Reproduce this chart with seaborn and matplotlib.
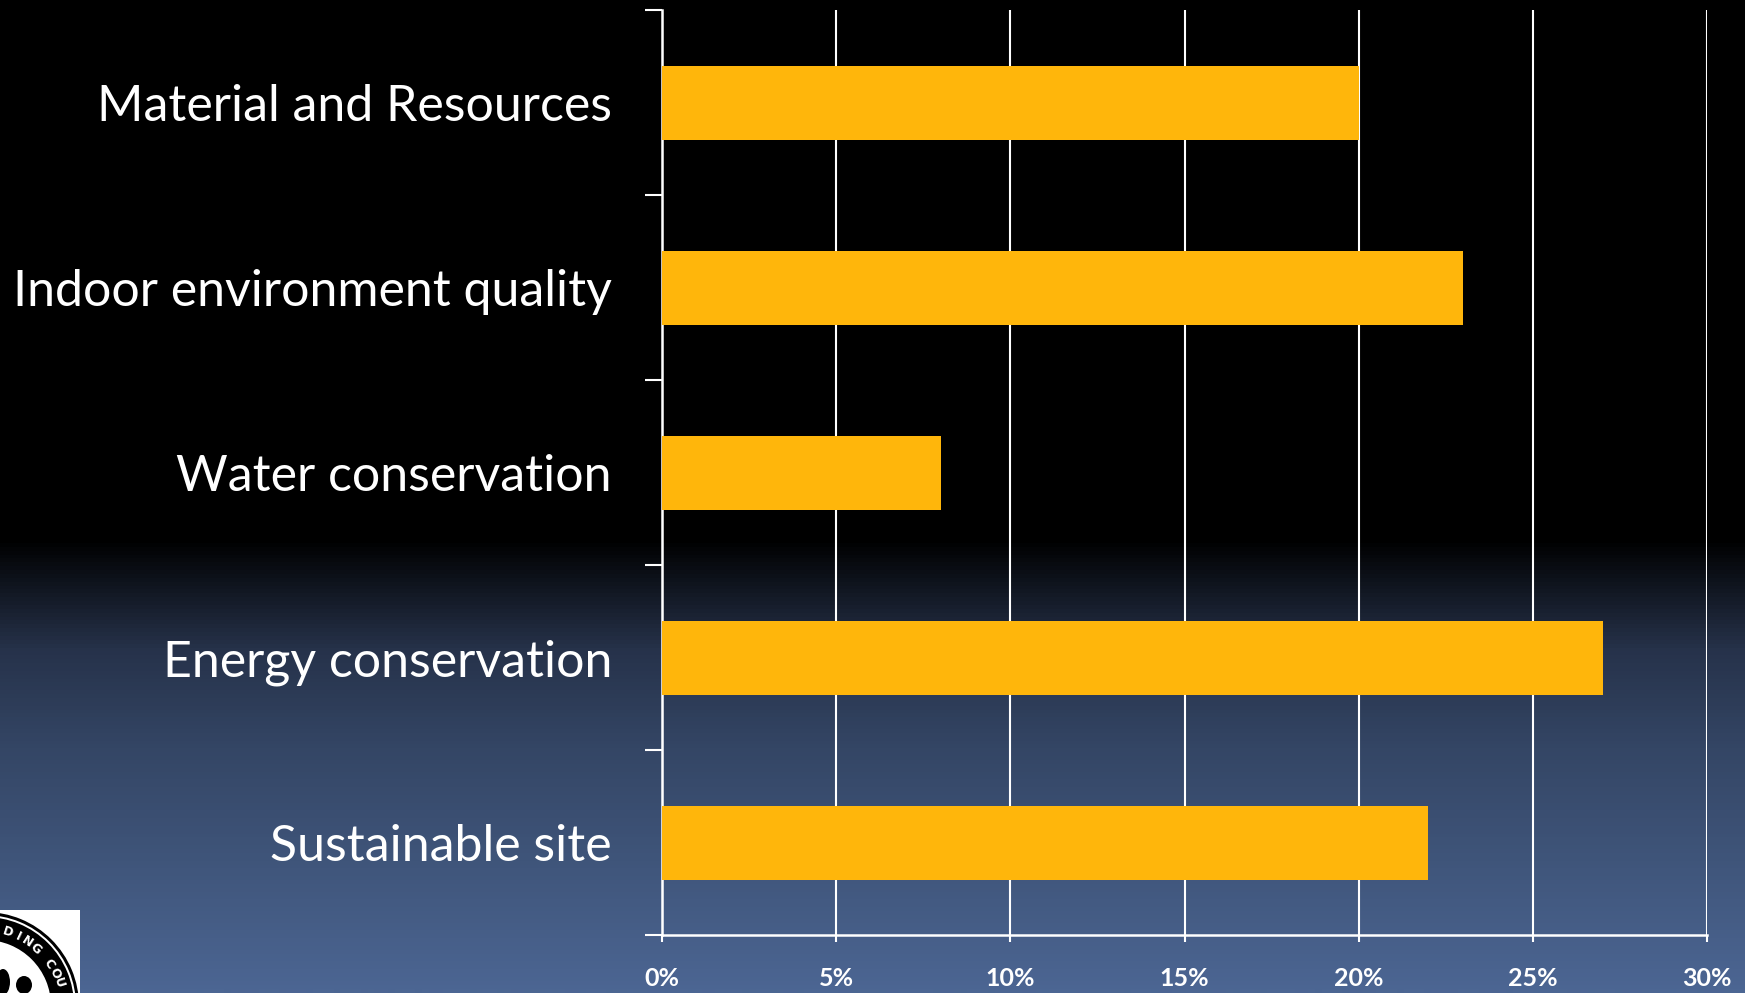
import numpy as np
import matplotlib
matplotlib.use("Agg")
import matplotlib.pyplot as plt
import seaborn as sns
from matplotlib.patches import Rectangle, Circle, Wedge, Ellipse
from matplotlib.colors import LinearSegmentedColormap

categories = ["Material and Resources", "Indoor environment quality",
              "Water conservation", "Energy conservation", "Sustainable site"]
values = [20, 23, 8, 27, 22]
x_ticks = [0, 5, 10, 15, 20, 25, 30]
x_tick_labels = ["0%", "5%", "10%", "15%", "20%", "25%", "30%"]

sns.set_theme(style="white")
plt.rcParams['font.family'] = ['Lato', 'DejaVu Sans']

W, H = 1745, 993
fig = plt.figure(figsize=(W / 100, H / 100), dpi=100)

# background gradient
bg = fig.add_axes([0, 0, 1, 1], zorder=-10)
bg.set_axis_off()
cmap = LinearSegmentedColormap.from_list("bg", [
    (0.0, (0, 0, 0)),
    (540 / 993, (0, 0, 0)),
    (650 / 993, (38 / 255, 50 / 255, 74 / 255)),
    (750 / 993, (52 / 255, 70 / 255, 101 / 255)),
    (1.0, (76 / 255, 102 / 255, 147 / 255)),
])
grad = np.linspace(0, 1, 993).reshape(-1, 1)
bg.imshow(grad, aspect="auto", cmap=cmap, extent=[0, W, H, 0], interpolation="bilinear")
bg.set_xlim(0, W)
bg.set_ylim(H, 0)

# logo approximation (bottom-left corner)
bg.add_patch(Rectangle((0, 910), 80, 83, facecolor="white", edgecolor="none", zorder=2))
logo_clip = Rectangle((0, 910), 80, 83, transform=bg.transData)
cx, cy = -15, 1006
parts = [
    Wedge((cx, cy), 94, 0, 360, width=3, facecolor="black", edgecolor="none", zorder=3),
    Wedge((cx, cy), 89, 0, 360, width=23, facecolor="black", edgecolor="none", zorder=3),
    Ellipse((3, 982), 14, 26, facecolor="black", edgecolor="none", zorder=3),
    Ellipse((24, 985), 16, 18, facecolor="black", edgecolor="none", zorder=3),
]
for p in parts:
    p.set_clip_path(logo_clip)
    bg.add_patch(p)
logo_letters = ["D", "I", "N", "G", "C", "O", "U"]
logo_angles = [72.5, 64.5, 56.5, 48.5, 33.5, 25.5, 17.5]
for ch, a in zip(logo_letters, logo_angles):
    r = np.deg2rad(a)
    px = cx + 77 * np.cos(r)
    py = cy - 77 * np.sin(r)
    bg.text(px, py, ch, color="white", fontsize=9, fontweight="bold",
            ha="center", va="center", rotation=a - 90, zorder=4,
            family=["DejaVu Sans"])

# main chart
ax = fig.add_axes([662 / W, 1 - 935 / H, (1707 - 662) / W, (935 - 10) / H])
ax.patch.set_alpha(0)
sns.barplot(x=values, y=categories, orient="h", color="#FFB60B", width=0.4,
            saturation=1, ax=ax, zorder=3)
for p in ax.patches:
    p.set_zorder(3)
    p.set_edgecolor("none")

ax.set_xlim(0, 30)
ax.set_ylim(4.5, -0.5)
ax.set_xticks(x_ticks)
ax.set_xticklabels(x_tick_labels, color="white", fontsize=18, fontweight="bold")
ax.set_yticks([-0.5, 0.5, 1.5, 2.5, 3.5, 4.5])
ax.set_yticklabels([])
ax.set_yticks(range(len(categories)), minor=True)
ax.set_yticklabels(categories, minor=True, color="white", fontsize=36)
ax.tick_params(axis="y", which="major", length=12, width=1.5, color="white", left=True, direction="out")
ax.tick_params(axis="y", which="minor", length=0, pad=36)
ax.tick_params(axis="x", which="major", length=5, width=1.5, color="white", bottom=True,
               direction="out", pad=18)
ax.set_xlabel("")
ax.set_ylabel("")
ax.set_axisbelow(True)
ax.grid(axis="x", color="white", linewidth=1.5)
ax.grid(axis="y", visible=False)
for s in ["top", "right"]:
    ax.spines[s].set_visible(False)
for s in ["left", "bottom"]:
    ax.spines[s].set_color("white")
    ax.spines[s].set_linewidth(1.8)
    ax.spines[s].set_zorder(1)

fig.savefig("out.png", dpi=100)
